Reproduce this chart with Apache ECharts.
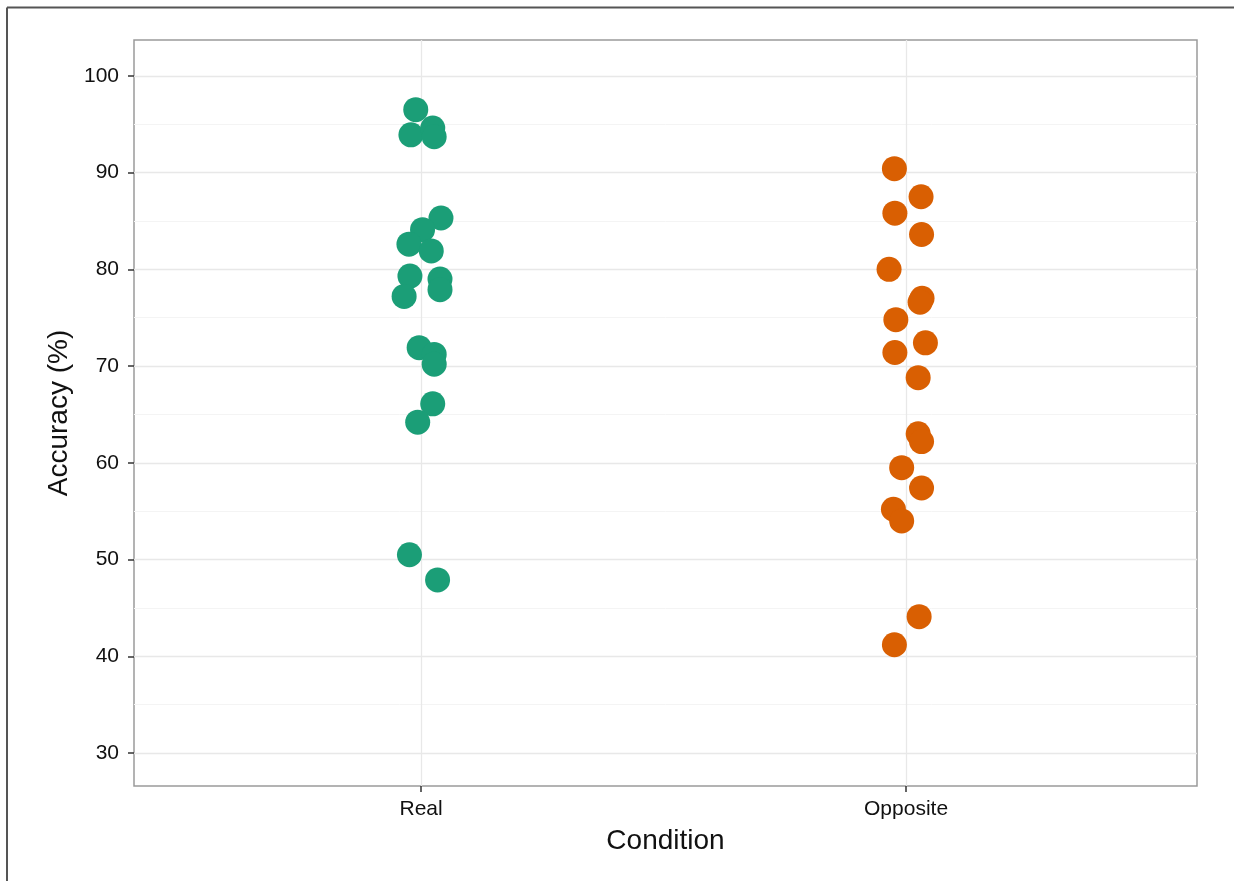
<!DOCTYPE html>
<html>
<head>
<meta charset="utf-8">
<script src="https://cdn.jsdelivr.net/npm/echarts@6/dist/echarts.min.js"></script>
<style>
html,body{margin:0;padding:0;background:#fff;}
#chart{width:1234px;height:881px;}
</style>
</head>
<body>
<div id="chart"></div>
<script>
// Categories and their positions on the x scale
var categories = ['Real', 'Opposite'];
var categoryPos = [1, 2];

// Jittered x positions and accuracy values (%)
var realX = [0.989, 0.979, 1.024, 1.027, 1.041, 1.003, 0.975, 1.021, 0.977, 0.965, 1.039, 1.039, 0.996, 1.027, 1.027, 1.024, 0.993, 0.976, 1.034];
var realY = [96.5, 93.9, 94.6, 93.7, 85.3, 84.1, 82.6, 81.9, 79.3, 77.2, 79.0, 77.9, 71.9, 71.2, 70.2, 66.1, 64.2, 50.5, 47.9];

var oppX = [1.976, 2.031, 1.977, 2.032, 1.965, 2.033, 2.029, 1.979, 2.040, 1.977, 2.025, 2.025, 2.032, 1.991, 2.032, 1.974, 1.991, 2.027, 1.976];
var oppY = [90.4, 87.5, 85.8, 83.6, 80.0, 77.0, 76.6, 74.8, 72.4, 71.4, 68.8, 63.0, 62.2, 59.5, 57.4, 55.2, 54.0, 44.1, 41.2];

// Axis ticks / gridlines
var yTicks = [30, 40, 50, 60, 70, 80, 90, 100];
var yMinor = [35, 45, 55, 65, 75, 85, 95];

function pairs(xs, ys) {
  var out = [];
  for (var i = 0; i < xs.length; i++) out.push([xs[i], ys[i]]);
  return out;
}

var chart = echarts.init(document.getElementById('chart'), null, {renderer: 'canvas'});

var majorLines = yTicks.map(function (v) { return {yAxis: v}; })
  .concat(categoryPos.map(function (v) { return {xAxis: v}; }));
var minorLines = yMinor.map(function (v) { return {yAxis: v}; });

var FONT = 'Liberation Sans, Arial, sans-serif';

var option = {
  animation: false,
  backgroundColor: '#ffffff',
  textStyle: {fontFamily: FONT},
  grid: {
    left: 134, right: 37, top: 40, bottom: 95,
    show: true, borderColor: '#9a9a9a', borderWidth: 1.5, backgroundColor: '#ffffff'
  },
  xAxis: {
    type: 'value',
    min: 0.408, max: 2.6,
    name: 'Condition',
    nameLocation: 'middle',
    nameGap: 41,
    nameTextStyle: {fontSize: 28, color: '#111', fontFamily: FONT},
    axisLine: {show: false},
    splitLine: {show: false},
    axisTick: {show: true, customValues: categoryPos, length: 6, lineStyle: {color: '#333', width: 1.5}},
    axisLabel: {
      customValues: categoryPos, margin: 13, fontSize: 21, color: '#111',
      formatter: function (v) { var i = categoryPos.indexOf(v); return i >= 0 ? categories[i] : ''; }
    }
  },
  yAxis: {
    type: 'value',
    min: 26.6, max: 103.7,
    name: 'Accuracy (%)',
    nameLocation: 'middle',
    nameGap: 57,
    nameTextStyle: {fontSize: 28, color: '#111', fontFamily: FONT},
    axisLine: {show: false},
    splitLine: {show: false},
    axisTick: {show: true, customValues: yTicks, length: 6, lineStyle: {color: '#333', width: 1.5}},
    axisLabel: {customValues: yTicks, margin: 15, fontSize: 21, color: '#111'}
  },
  series: [
    {
      type: 'scatter',
      name: 'grid',
      data: [],
      silent: true,
      z: 1,
      markLine: {
        silent: true, symbol: 'none', label: {show: false}, animation: false,
        lineStyle: {color: '#f4f4f4', width: 1, type: 'solid'},
        data: minorLines
      }
    },
    {
      type: 'scatter',
      name: 'grid2',
      data: [],
      silent: true,
      z: 1,
      markLine: {
        silent: true, symbol: 'none', label: {show: false}, animation: false,
        lineStyle: {color: '#e8e8e8', width: 1.3, type: 'solid'},
        data: majorLines
      }
    },
    {
      type: 'scatter',
      name: 'Real',
      data: pairs(realX, realY),
      symbolSize: 25,
      z: 5,
      itemStyle: {color: '#1b9e77', opacity: 1}
    },
    {
      type: 'scatter',
      name: 'Opposite',
      data: pairs(oppX, oppY),
      symbolSize: 25,
      z: 5,
      itemStyle: {color: '#d95f02', opacity: 1}
    }
  ],
  graphic: [
    {type: 'line', shape: {x1: 7, y1: 7.5, x2: 1234, y2: 7.5}, style: {stroke: '#555', lineWidth: 2}, z: 100},
    {type: 'line', shape: {x1: 7, y1: 7.5, x2: 7, y2: 881}, style: {stroke: '#555', lineWidth: 2}, z: 100}
  ]
};

chart.setOption(option);
</script>
</body>
</html>
